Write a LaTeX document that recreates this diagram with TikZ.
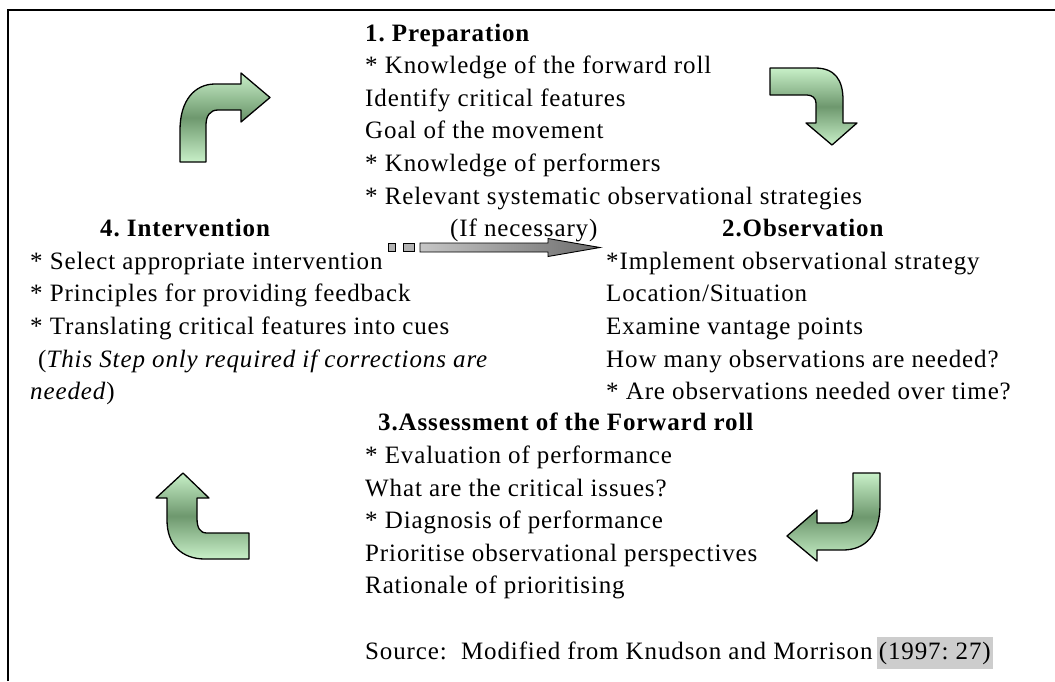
\documentclass[tikz,border=0pt]{standalone}
\usepackage{fontspec}
\setmainfont{Liberation Serif}[LetterSpace=3.5]
\frenchspacing
\definecolor{lgreen}{HTML}{C8F0C8}
\definecolor{dgreen}{HTML}{6E986E}
\definecolor{hl}{HTML}{CDCDCD}
\tikzset{
  txt/.style={anchor=base west, inner sep=0pt, font=\fontsize{25}{30}\selectfont},
  ttl/.style={txt, font=\fontsize{25}{30}\selectfont\bfseries},
  bendarrow/.style={draw=black, line width=1.3pt, line join=round, top color=lgreen, bottom color=lgreen, middle color=dgreen},
  grayarrow/.style={draw=black, line width=0.9pt, left color=gray!45, right color=gray!85!black},
  frameline/.style={line width=1.6pt, black}
}
\begin{document}
\begin{tikzpicture}[x=1pt,y=-1pt]
\useasboundingbox (0,0) rectangle (1055,681);
% frame
\coordinate (fa) at (8,681);
\coordinate (fb) at (8,10);
\coordinate (fc) at (1055,10);
\draw[frameline] (fa) -- (fb) -- (fc);

% curved block arrows
\path[bendarrow] (180,162) -- (180,130) .. controls (180,100) and (195,84) .. (215,84)
  -- (241,84) -- (241,73) -- (270,97.5) -- (241,122) -- (241,110) -- (218,110)
  .. controls (210,110) and (206,116) .. (206,125) -- (206,162) -- cycle;
\path[bendarrow] (770,68) -- (815,68) .. controls (835,68) and (843,80) .. (843,100)
  -- (843,123) -- (857,123) -- (832,145) -- (806,123) -- (816,123) -- (816,103)
  .. controls (816,98) and (812,95) .. (807,95) -- (770,95) -- cycle;
\path[bendarrow] (853,473) -- (880,473) -- (880,505) .. controls (880,535) and (865,550) .. (843,550)
  -- (817,550) -- (817,561) -- (787,536) -- (817,510) -- (817,523) -- (840,523)
  .. controls (850,523) and (853,518) .. (853,508) -- cycle;
\path[bendarrow] (249,533) -- (249,559) -- (205,559) .. controls (182,559) and (167,545) .. (167,520)
  -- (167,498) -- (156,498) -- (183,473) -- (209,498) -- (197,498) -- (197,518)
  .. controls (197,528) and (200,533) .. (207,533) -- cycle;

% middle striped arrow
\node[draw=black, line width=0.9pt, fill=gray!60, minimum width=7pt, minimum height=8pt, inner sep=0pt] (sq1) at (391.5,247) {};
\node[draw=black, line width=0.9pt, fill=gray!60, minimum width=11pt, minimum height=8pt, inner sep=0pt] (sq2) at (408.5,247) {};
\path[grayarrow] (420,243) -- (548,243) -- (548,238.5) -- (600,247.5) -- (548,256.5) -- (548,252) -- (420,252) -- cycle;

% 1. Preparation
\node[ttl] (p0) at (365,41) {1. Preparation};
\node[txt] (p1) at (365,73.6) {* Knowledge of the forward roll};
\node[txt] (p2) at (365,106.2) {Identify critical features};
\node[txt] (p3) at (365,138.8) {Goal of the movement};
\node[txt] (p4) at (365,171.4) {* Knowledge of performers};
\node[txt] (p5) at (365,204) {* Relevant systematic observational strategies};
\node[txt] (p6) at (450,236.6) {(If necessary)};

% 4. Intervention
\node[ttl] (i0) at (100,236.6) {4. Intervention};
\node[txt] (i1) at (30,269.2) {* Select appropriate intervention};
\node[txt] (i2) at (30,301.8) {* Principles for providing feedback};
\node[txt] (i3) at (30,334.4) {* Translating critical features into cues};
\node[txt] (i4) at (38,367) {(\textit{This Step only required if corrections are}};
\node[txt] (i5) at (30,399.6) {\textit{needed})};

% 2. Observation
\node[ttl] (o0) at (722,236.6) {2.Observation};
\node[txt] (o1) at (606,269.2) {*Implement observational strategy};
\node[txt] (o2) at (606,301.8) {Location/Situation};
\node[txt] (o3) at (606,334.4) {Examine vantage points};
\node[txt] (o4) at (606,367) {How many observations are needed?};
\node[txt] (o5) at (606,399.6) {* Are observations needed over time?};

% 3. Assessment
\node[ttl] (a0) at (378,430.5) {3.Assessment of the Forward roll};
\node[txt] (a1) at (365,463.5) {* Evaluation of performance};
\node[txt] (a2) at (365,496) {What are the critical issues?};
\node[txt] (a3) at (365,528.5) {* Diagnosis of performance};
\node[txt] (a4) at (365,561) {Prioritise observational perspectives};
\node[txt] (a5) at (365,593.5) {Rationale of prioritising};

% source
\node[txt] (src) at (365,659) {Source:\ \ Modified from Knudson and Morrison};
\node[anchor=base west, inner xsep=2pt, inner ysep=5pt, fill=hl, font=\fontsize{25}{30}\selectfont] (yr) at ([xshift=4pt]src.base east) {(1997: 27)};
\end{tikzpicture}
\end{document}
